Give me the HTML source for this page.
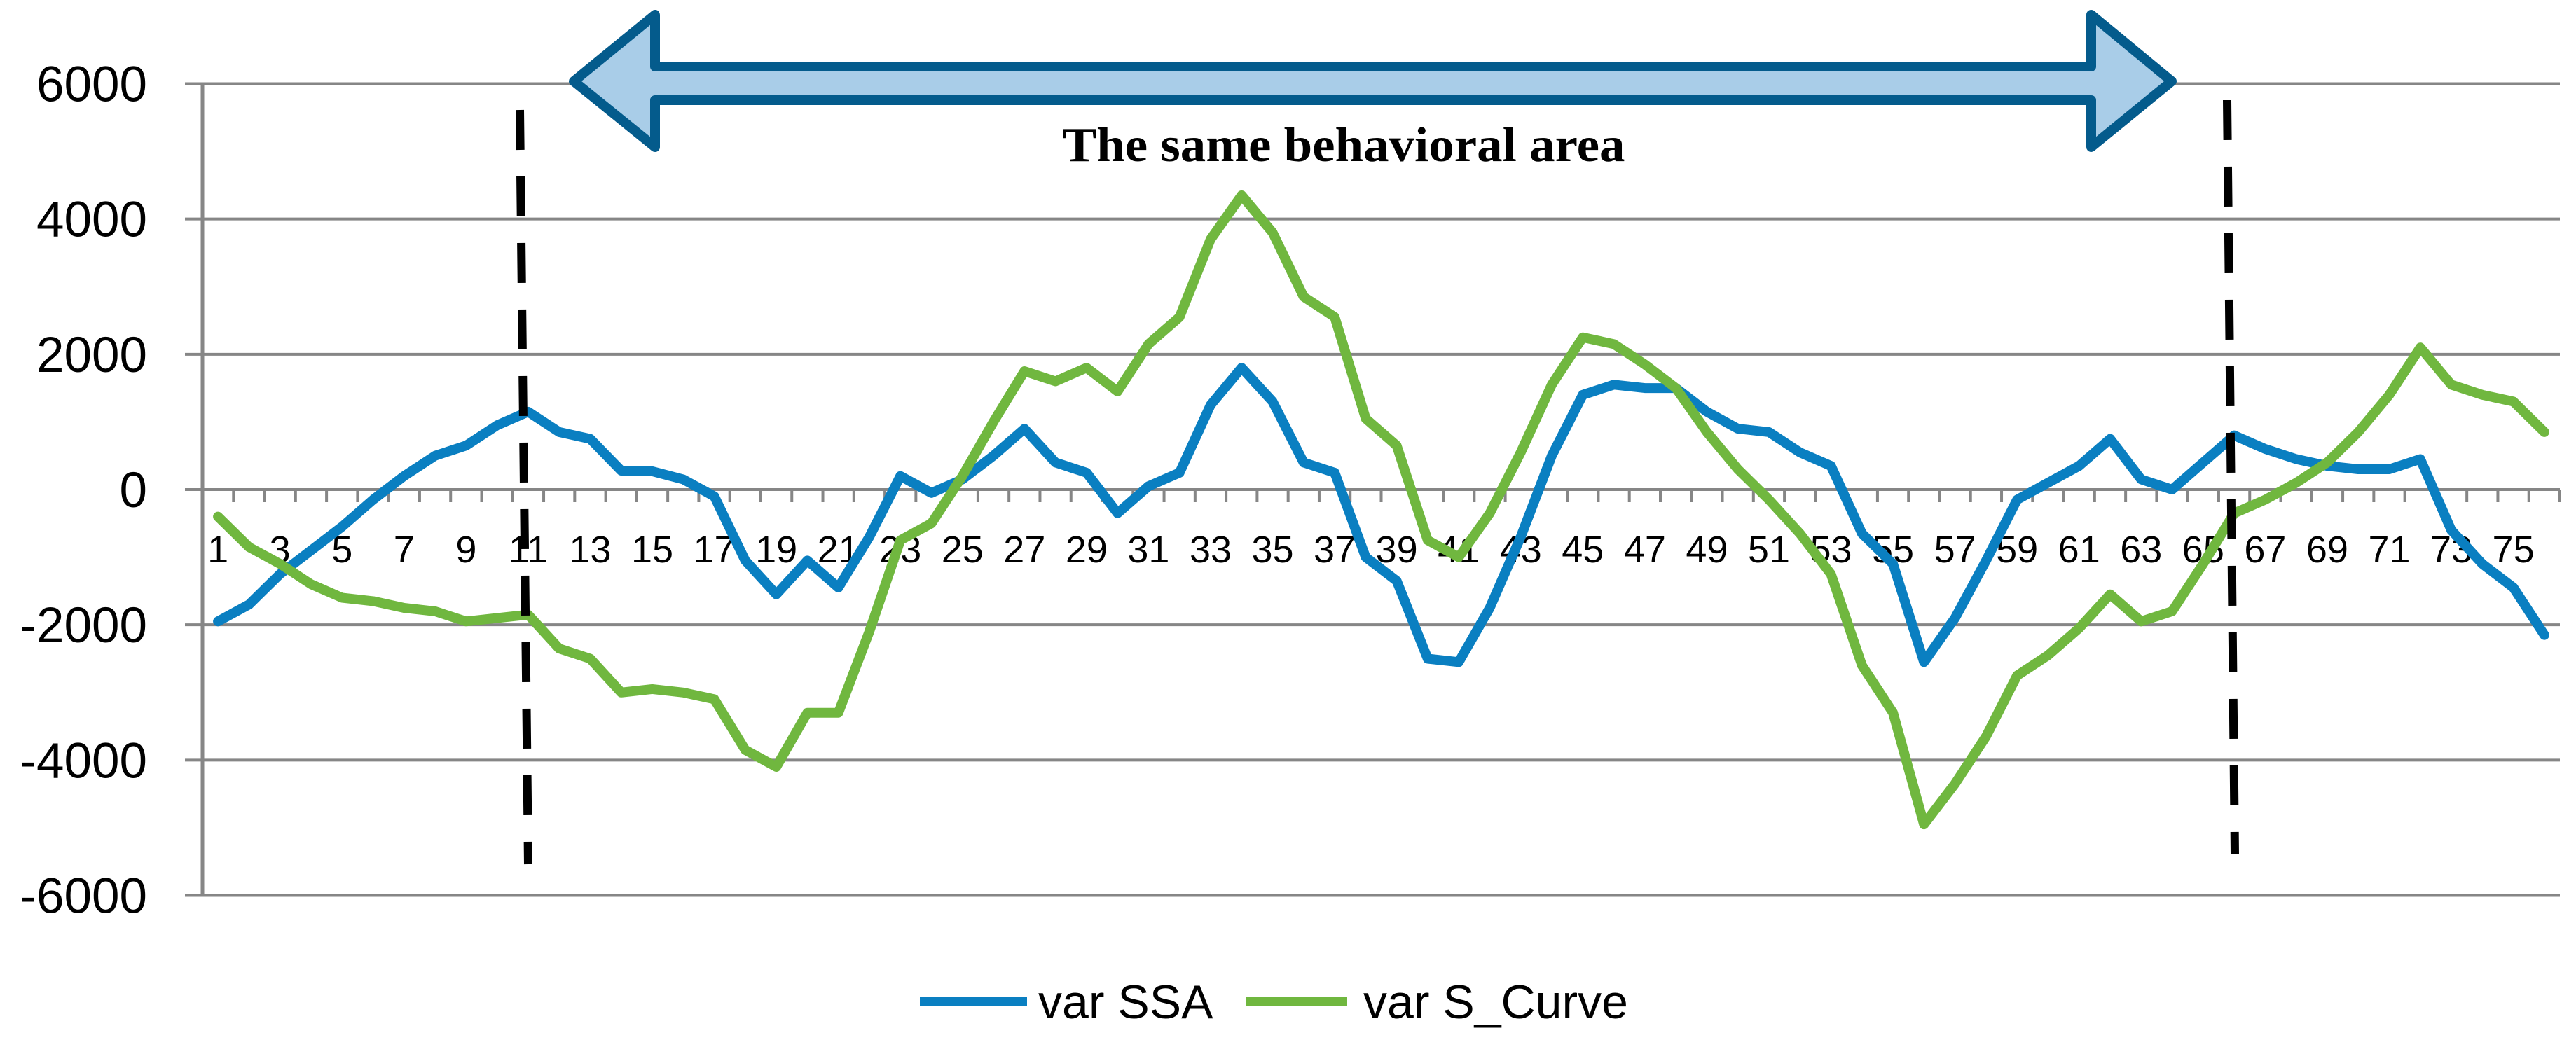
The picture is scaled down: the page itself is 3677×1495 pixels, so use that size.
<!DOCTYPE html>
<html><head><meta charset="utf-8"><style>
html,body{margin:0;padding:0;background:#fff;}
svg{display:block;font-family:"Liberation Sans",sans-serif;}
</style></head><body>
<svg id="chart" width="3677" height="1495" viewBox="0 0 3677 1495" xmlns="http://www.w3.org/2000/svg">
<g id="grid"></g>
<g id="yaxis"></g>
<g id="xaxis"></g>
<g id="series"></g>
<g>
<polygon points="819,116 935,21 935,95 2985,95 2985,21 3100,116 2985,210 2985,143 935,143 935,210" fill="#a9cde8" stroke="#045b8c" stroke-width="14" stroke-linejoin="round"/>
<text x="1918" y="230" text-anchor="middle" font-family="Liberation Serif, serif" font-weight="bold" font-size="70" textLength="803" lengthAdjust="spacingAndGlyphs" fill="#000">The same behavioral area</text>
</g>
<line x1="742" y1="157" x2="754" y2="1234" stroke="#000" stroke-width="12" stroke-dasharray="57,38"/>
<line x1="3179" y1="143" x2="3190" y2="1220" stroke="#000" stroke-width="12" stroke-dasharray="57,38"/>
<g>
<line x1="1313" y1="1430" x2="1466" y2="1430" stroke="#0a7fc1" stroke-width="13"/>
<text x="1482" y="1454" font-size="68" fill="#000">var SSA</text>
<line x1="1778" y1="1430" x2="1923" y2="1430" stroke="#70b73f" stroke-width="13"/>
<text x="1946" y="1454" font-size="68" fill="#000">var S_Curve</text>
</g>
</svg>
<script>
const categories = Array.from({length:76},(_, i)=>String(i+1));
const yTicks = [6000,4000,2000,0,-2000,-4000,-6000];
const ssaValues = [-1950,-1700,-1250,-900,-550,-150,200,500,650,950,1150,850,750,280,270,150,-100,-1050,-1550,-1050,-1450,-700,200,-50,150,500,900,400,250,-350,50,250,1250,1800,1300,400,250,-1000,-1350,-2500,-2550,-1750,-700,500,1400,1550,1500,1500,1150,900,850,550,350,-650,-1100,-2550,-1900,-1050,-150,100,350,750,150,0,400,800,600,450,350,300,300,450,-600,-1100,-1450,-2150];
const sCurveValues = [-400,-850,-1100,-1400,-1600,-1650,-1750,-1800,-1950,-1900,-1850,-2350,-2500,-3000,-2950,-3000,-3100,-3850,-4100,-3300,-3300,-2100,-750,-500,200,1000,1750,1600,1800,1450,2150,2550,3700,4350,3800,2850,2550,1050,650,-750,-1000,-350,550,1550,2250,2150,1850,1500,850,300,-150,-650,-1250,-2600,-3300,-4950,-4350,-3650,-2750,-2450,-2050,-1550,-1950,-1800,-1100,-350,-150,100,400,850,1400,2100,1550,1400,1300,850];

const NS="http://www.w3.org/2000/svg";
const X0=289, X1=3654, Y0=699, Ypx=(1278-119)/12000;
const cw=(X1-X0)/categories.length;
function xPos(i){return X0+cw*(i+0.5);}
function yPos(v){return Y0-v*Ypx;}
function mk(tag,attrs,parent){const e=document.createElementNS(NS,tag);for(const k in attrs)e.setAttribute(k,attrs[k]);parent.appendChild(e);return e;}
const grid=document.getElementById('grid'),yaxis=document.getElementById('yaxis'),xaxis=document.getElementById('xaxis'),series=document.getElementById('series');
yTicks.forEach(v=>{
  const l=mk('line',{x1:264,x2:X1,y1:yPos(v),y2:yPos(v),stroke:'#868686','stroke-width':4},grid);
  
  
  const t=mk('text',{x:210,y:yPos(v)+25,'text-anchor':'end','font-size':71,fill:'#000'},yaxis);
  t.textContent=v;
  
  
});
const ax=mk('line',{x1:X0,x2:X0,y1:yPos(6000),y2:yPos(-6000),stroke:'#868686','stroke-width':5},yaxis);


for(let i=0;i<=categories.length;i++){
  const x=X0+cw*i;
  const tk=mk('line',{x1:x,x2:x,y1:Y0,y2:Y0+18,stroke:'#868686','stroke-width':4},xaxis);
  
  
}
categories.forEach((c,i)=>{
  if(i%2!==0)return;
  const t=mk('text',{x:xPos(i),y:803,'text-anchor':'middle','font-size':54,fill:'#000'},xaxis);
  t.textContent=c;
  
  
});
function drawLine(vals,color,name){
  const d=vals.map((v,i)=>(i?'L':'M')+xPos(i).toFixed(1)+','+yPos(v).toFixed(1)).join(' ');
  const p=mk('path',{d:d,fill:'none',stroke:color,'stroke-width':14,'stroke-linejoin':'round','stroke-linecap':'round'},series);
  
  
}
drawLine(ssaValues,'#0a7fc1','series-var-ssa');
drawLine(sCurveValues,'#70b73f','series-var-s-curve');
</script>
</body></html>
